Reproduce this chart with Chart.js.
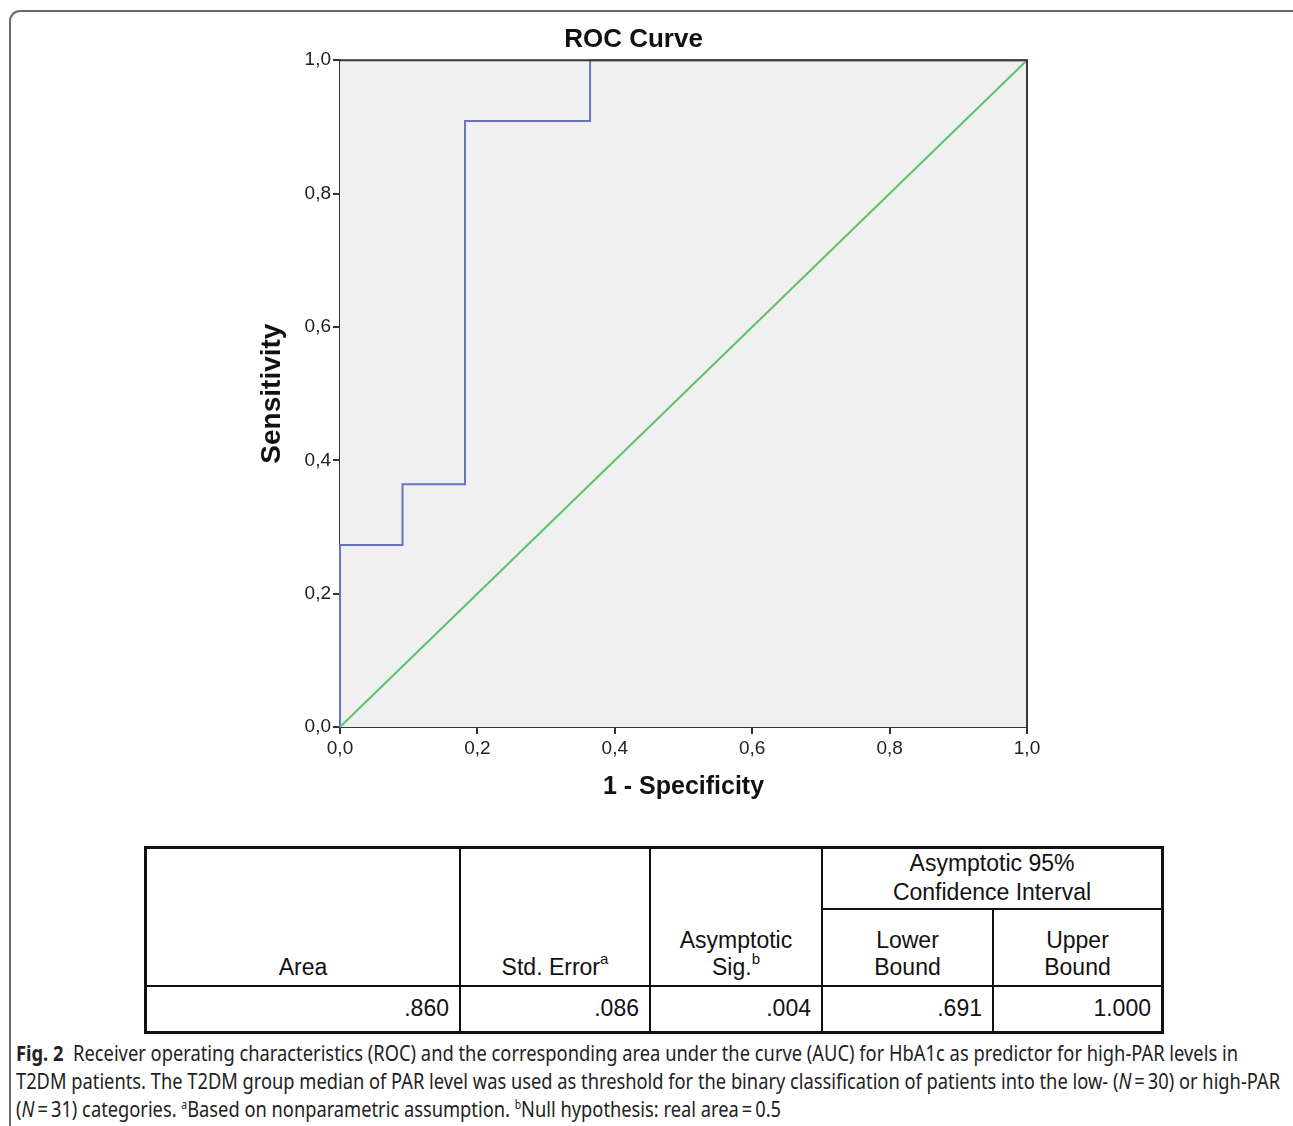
<!DOCTYPE html>
<html>
<head>
<meta charset="utf-8">
<script src="https://cdn.jsdelivr.net/npm/chart.js@4.4.0/dist/chart.umd.min.js"></script>
<style>
  html, body { margin: 0; padding: 0; background: #fff; width: 1293px; height: 1126px; overflow: hidden; }
  #frame { position: absolute; left: 9px; top: 10px; width: 1300px; height: 1130px;
           border: 2px solid #6a6a6a; border-radius: 11px; box-sizing: border-box; }
  #chartBox { position: absolute; left: 0; top: 0; width: 1293px; height: 830px; }
  table { position: absolute; left: 144px; top: 846px; width: 1020px; height: 188px;
          border-collapse: collapse; font-family: "Liberation Sans", Arial, sans-serif;
          font-size: 23px; color: #111; }
  td { border: 2.5px solid #111; padding: 0 8px; }
  table { border: 3px solid #111; }
  .hd { vertical-align: bottom; text-align: center; line-height: 27px; padding-bottom: 4px; }
  .num { text-align: right; padding-right: 10px; }
  sup { font-size: 15px; vertical-align: 11px; line-height: 0; }
  #caption { position: absolute; left: 16px; top: 1039px; font-family: "Noto Sans", sans-serif;
             font-size: 21px; color: #222; }
  #caption div { white-space: nowrap; width: max-content; transform-origin: left top; height: 28px; line-height: 28px; }
  #caption sup { font-size: 12px; vertical-align: 8px; }
</style>
</head>
<body>
<div id="frame"></div>
<div id="chartBox"><canvas id="roc"></canvas></div>

<table>
  <tr style="height:61px">
    <td rowspan="2" class="hd" style="width:296px">Area</td>
    <td rowspan="2" class="hd" style="width:172px">Std. Error<sup>a</sup></td>
    <td rowspan="2" class="hd" style="width:154px">Asymptotic<br>Sig.<sup>b</sup></td>
    <td colspan="2" style="text-align:center; line-height:29px">Asymptotic 95%<br>Confidence Interval</td>
  </tr>
  <tr style="height:77px">
    <td class="hd" style="width:153px">Lower<br>Bound</td>
    <td class="hd">Upper<br>Bound</td>
  </tr>
  <tr>
    <td class="num" id="vArea"></td>
    <td class="num" id="vSE"></td>
    <td class="num" id="vSig"></td>
    <td class="num" id="vLow"></td>
    <td class="num" id="vUp"></td>
  </tr>
</table>

<div id="caption">
  <div><b>Fig. 2</b>&nbsp; Receiver operating characteristics (ROC) and the corresponding area under the curve (AUC) for HbA1c as predictor for high-PAR levels in</div>
  <div>T2DM patients. The T2DM group median of PAR level was used as threshold for the binary classification of patients into the low- (<i>N</i>&thinsp;=&thinsp;30) or high-PAR</div>
  <div>(<i>N</i>&thinsp;=&thinsp;31) categories. <sup>a</sup>Based on nonparametric assumption. <sup>b</sup>Null hypothesis: real area&thinsp;=&thinsp;0.5</div>
</div>

<script>
// ROC curve points (1 - specificity, sensitivity)
const rocX = [0, 0, 0.091, 0.091, 0.182, 0.182, 0.364, 0.364, 1];
const rocY = [0, 0.273, 0.273, 0.364, 0.364, 0.909, 0.909, 1, 1];
// reference line
const refX = [0, 1];
const refY = [0, 1];
// AUC table values
const aucArea = '.860';
const aucStdError = '.086';
const aucSig = '.004';
const ciLower = '.691';
const ciUpper = '1.000';

document.getElementById('vArea').textContent = aucArea;
document.getElementById('vSE').textContent = aucStdError;
document.getElementById('vSig').textContent = aucSig;
document.getElementById('vLow').textContent = ciLower;
document.getElementById('vUp').textContent = ciUpper;

const toPts = (xs, ys) => xs.map((x, i) => ({ x: x, y: ys[i] }));
const commaTick = v => v.toFixed(1).replace('.', ',');

// grey plot background + top/right frame
const plotFrame = {
  id: 'plotFrame',
  beforeDatasetsDraw(chart) {
    const a = chart.chartArea, c = chart.ctx;
    c.save();
    c.fillStyle = '#f0f0f0';
    c.fillRect(a.left, a.top, a.width, a.height);
    c.restore();
  },
  afterDatasetsDraw(chart) {
    const a = chart.chartArea, c = chart.ctx;
    c.save();
    c.strokeStyle = '#3a3a3a';
    c.lineWidth = 2;
    c.beginPath();
    c.moveTo(a.left, a.top);
    c.lineTo(a.right, a.top);
    c.lineTo(a.right, a.bottom);
    c.stroke();
    c.restore();
  }
};

const axisFont = { family: '"Liberation Sans", Arial, sans-serif', size: 19 };

new Chart(document.getElementById('roc'), {
  type: 'scatter',
  data: {
    datasets: [
      {
        data: toPts(refX, refY),
        showLine: true,
        borderColor: '#5ec26c',
        borderWidth: 2,
        pointRadius: 0,
        clip: 4
      },
      {
        data: toPts(rocX, rocY),
        showLine: true,
        borderColor: '#6a72bd',
        borderWidth: 2,
        pointRadius: 0,
        clip: 4
      }
    ]
  },
  options: {
    responsive: true,
    maintainAspectRatio: false,
    animation: false,
    layout: { padding: { left: 240, right: 266, top: 0, bottom: 0 } },
    plugins: {
      legend: { display: false },
      tooltip: { enabled: false },
      title: {
        display: true,
        text: 'ROC Curve',
        color: '#111',
        font: { family: '"Liberation Sans", Arial, sans-serif', size: 26, weight: 'bold' },
        padding: { top: 24, bottom: 5 }
      }
    },
    scales: {
      x: {
        min: 0, max: 1,
        ticks: { stepSize: 0.2, callback: commaTick, color: '#222', font: axisFont, padding: 3, maxRotation: 0 },
        grid: { drawOnChartArea: false, drawTicks: true, tickLength: 7, color: '#333', lineWidth: 2 },
        border: { color: '#333', width: 2 },
        title: {
          display: true, text: '1 - Specificity', color: '#111',
          font: { family: '"Liberation Sans", Arial, sans-serif', size: 25, weight: 'bold' },
          padding: { bottom: 28 }
        },
        afterFit: s => { s.height = 103; }
      },
      y: {
        min: 0, max: 1,
        ticks: { stepSize: 0.2, callback: commaTick, color: '#222', font: axisFont, padding: 2 },
        grid: { drawOnChartArea: false, drawTicks: true, tickLength: 7, color: '#333', lineWidth: 2 },
        border: { color: '#333', width: 2 },
        title: {
          display: true, text: 'Sensitivity', color: '#111',
          font: { family: '"Liberation Sans", Arial, sans-serif', size: 28, weight: 'bold' },
          padding: { top: 15 }
        },
        afterFit: s => { s.width = 100; }
      }
    }
  },
  plugins: [plotFrame]
});

// squeeze caption lines to the condensed width of the original
const lines = document.querySelectorAll('#caption div');
const targets = [1222, 1264];
let k = 1;
lines.forEach((el, i) => {
  const w = el.getBoundingClientRect().width;
  if (i < 2) { k = targets[i] / w; }
  el.style.transform = 'scaleX(' + k + ')';
});
</script>
</body>
</html>
